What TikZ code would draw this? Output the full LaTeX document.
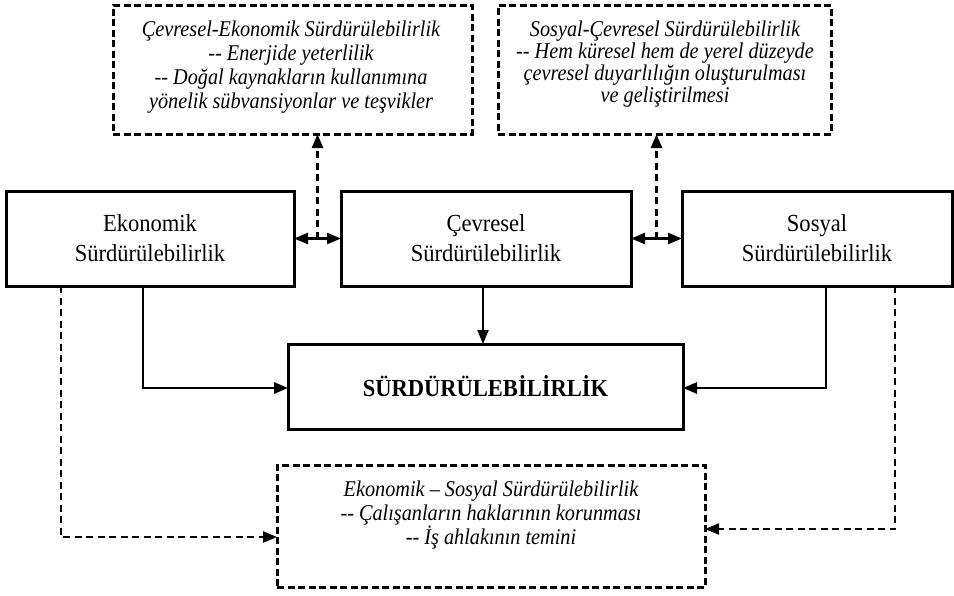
\documentclass[tikz,border=0pt]{standalone}
\usepackage{fontspec}
\setmainfont{Liberation Serif}
\newfontfamily\cond[FakeStretch=0.92]{Liberation Serif}
\newfontfamily\condit[FakeStretch=0.9]{Liberation Serif Italic}
\usetikzlibrary{arrows.meta,calc}
\tikzset{
  sbox/.style={draw,line width=3pt,inner sep=0pt,outer sep=0pt,align=center,
    font=\cond\fontsize{24.5}{30}\selectfont},
  dbox/.style={draw,line width=3pt,dash pattern=on 7pt off 3.5pt,inner sep=0pt,outer sep=0pt},
  itxt/.style={align=center,inner sep=0pt,font=\condit\fontsize{22.5}{23.8}\selectfont},
  tip/.tip={Triangle[length=14pt,width=11pt]},
  conn/.style={line width=2.8pt,-tip},
  thinconn/.style={line width=2pt,-tip},
  dconn/.style={line width=2.2pt,dash pattern=on 7pt off 4.5pt,-tip},
  both/.style={line width=2.5pt,tip-tip}
}
\begin{document}
\begin{tikzpicture}[x=1pt,y=-1pt]
\fill[white] (0,0) rectangle (954,595);
\useasboundingbox (0,0) rectangle (954,595);

% top dashed boxes
\node[dbox,minimum width=359,minimum height=129] (tl) at (292.5,69.5) {};
\node[itxt] (tlt) at (291,67) {Çevresel-Ekonomik Sürdürülebilirlik\\-{}- Enerjide yeterlilik\\-{}- Doğal kaynakların kullanımına\\yönelik sübvansiyonlar ve teşvikler};
\node[dbox,minimum width=333,minimum height=129] (tr) at (664.5,69.5) {};
\node[itxt,font=\condit\fontsize{22.5}{22}\selectfont] (trt) at (665,64) {Sosyal-Çevresel Sürdürülebilirlik\\-{}- Hem küresel hem de yerel düzeyde\\çevresel duyarlılığın oluşturulması\\ve geliştirilmesi};

% middle row
\node[sbox,minimum width=288,minimum height=95] (eko) at (150,238.5) {Ekonomik\\Sürdürülebilirlik};
\node[sbox,minimum width=290,minimum height=95] (cev) at (486,238.5) {Çevresel\\Sürdürülebilirlik};
\node[sbox,minimum width=270,minimum height=95] (sos) at (817,238.5) {Sosyal\\Sürdürülebilirlik};

% main box
\node[sbox,minimum width=395,minimum height=85,font=\cond\bfseries\fontsize{24.5}{30}\selectfont] (sur) at (485.5,386.5) {SÜRDÜRÜLEBİLİRLİK};

% bottom dashed box
\node[dbox,minimum width=428,minimum height=122] (es) at (491,526) {};
\node[itxt] (est) at (491,515) {Ekonomik – Sosyal Sürdürülebilirlik\\-{}- Çalışanların haklarının korunması\\-{}- İş ahlakının temini};

% double arrows and dashed up arrows
\draw[both] (eko.east) -- (cev.west);
\draw[both] (cev.east) -- (sos.west);
\coordinate (m1) at ($(eko.east)!0.5!(cev.west)$);
\coordinate (m2) at ($(cev.east)!0.5!(sos.west)$);
\draw[dconn] (m1) -- (m1 |- tl.south);
\draw[dconn] (m2) -- (m2 |- tr.south);

% solid connectors to main box
\coordinate (c1) at ($(cev.south)+(-3,0)$);
\draw[thinconn] (c1) -- (c1 |- sur.north);
\draw[conn] ($(eko.south)+(-7,0)$) |- ($(sur.west)+(0,1.5)$);
\draw[conn] ($(sos.south)+(9,0)$) |- ($(sur.east)+(0,1.5)$);

% dashed connectors to bottom box
\draw[dconn] ($(eko.south)+(-89,0)$) |- ($(es.west)+(0,11)$);
\draw[dconn] ($(sos.south)+(78,0)$) |- ($(es.east)+(0,3)$);
\end{tikzpicture}
\end{document}
